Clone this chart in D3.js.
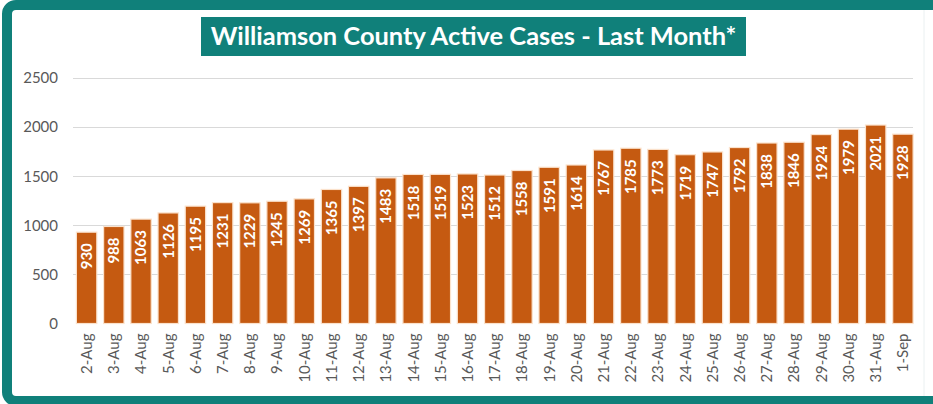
<!DOCTYPE html>
<html>
<head>
<meta charset="utf-8">
<script src="https://cdn.jsdelivr.net/npm/d3@7"></script>
<style>
    html, body { margin: 0; padding: 0; background: #ffffff; }
    svg { display: block; }
</style>
</head>
<body>
<svg id="chart" width="933" height="404"></svg>
<script>
    var days = ["2-Aug", "3-Aug", "4-Aug", "5-Aug", "6-Aug", "7-Aug", "8-Aug", "9-Aug", "10-Aug",
        "11-Aug", "12-Aug", "13-Aug", "14-Aug", "15-Aug", "16-Aug", "17-Aug", "18-Aug", "19-Aug",
        "20-Aug", "21-Aug", "22-Aug", "23-Aug", "24-Aug", "25-Aug", "26-Aug", "27-Aug", "28-Aug",
        "29-Aug", "30-Aug", "31-Aug", "1-Sep"];
    var activeCases = [930, 988, 1063, 1126, 1195, 1231, 1229, 1245, 1269, 1365, 1397, 1483, 1518,
        1519, 1523, 1512, 1558, 1591, 1614, 1767, 1785, 1773, 1719, 1747, 1792, 1838, 1846, 1924,
        1979, 2021, 1928];
    var yTicks = [0, 500, 1000, 1500, 2000, 2500];
    var chartTitle = "Williamson County Active Cases - Last Month*";

    var teal = "#10807a",
        barColor = "#c55a11",
        font = "Lato, 'Open Sans', sans-serif";

    var svg = d3.select("#chart"),
        plotLeft = 73,
        plotRight = 913,
        plotTop = 78,
        plotBottom = 323.5;

    // frame, cropped on the right
    svg.append("rect")
        .attr("x", 7).attr("y", 5)
        .attr("width", 1000).attr("height", 396)
        .attr("rx", 9)
        .attr("fill", "#ffffff")
        .attr("stroke", teal)
        .attr("stroke-width", 10);

    svg.append("line")
        .attr("x1", 924).attr("x2", 924)
        .attr("y1", 10).attr("y2", 396)
        .attr("stroke", "#eaf0f1");

    var x = d3.scaleBand()
        .domain(days)
        .range([plotLeft, plotRight + 3.5])
        .paddingInner(0.25)
        .paddingOuter(0.125);

    var y = d3.scaleLinear()
        .domain([0, 2500])
        .range([plotBottom, plotTop]);

    // grid
    svg.append("g")
        .selectAll("line")
        .data(yTicks.slice(1))
        .enter()
        .append("line")
        .attr("x1", plotLeft)
        .attr("x2", plotRight)
        .attr("y1", function (d) { return Math.round(y(d)) + 0.5; })
        .attr("y2", function (d) { return Math.round(y(d)) + 0.5; })
        .attr("stroke", "#d9d9d9")
        .attr("stroke-width", 1);

    var yAxis = svg.append("g")
        .attr("transform", "translate(" + (plotLeft - 15) + ",0)")
        .call(d3.axisLeft(y).tickValues(yTicks).tickFormat(d3.format("d")).tickSize(0).tickPadding(0));
    yAxis.select(".domain").remove();
    yAxis.selectAll("text")
        .attr("fill", "#595959")
        .style("font-family", font)
        .style("font-size", "15px");

    // bars
    var bars = svg.append("g")
        .selectAll(".bar")
        .data(activeCases)
        .enter()
        .append("g")
        .attr("class", "bar");

    bars.append("rect")
        .attr("x", function (d, i) { return x(days[i]); })
        .attr("y", function (d) { return y(d); })
        .attr("width", x.bandwidth())
        .attr("height", function (d) { return y(0) - y(d); })
        .attr("fill", barColor)
        .attr("stroke", "#fbe2cc")
        .attr("stroke-width", 1.2);

    bars.append("text")
        .attr("transform", function (d, i) {
            return "translate(" + (x(days[i]) + x.bandwidth() / 2) + "," + (y(d) + 11) + ") rotate(-90)";
        })
        .attr("dy", "0.36em")
        .attr("text-anchor", "end")
        .attr("fill", "#ffffff")
        .style("font-family", font)
        .style("font-weight", "bold")
        .style("font-size", "15px")
        .text(function (d) { return d; });

    var xAxis = svg.append("g")
        .attr("transform", "translate(0," + plotBottom + ")")
        .call(d3.axisBottom(x).tickSize(0).tickPadding(0));
    xAxis.select(".domain").remove();
    xAxis.selectAll("text")
        .attr("transform", "translate(0,10) rotate(-90)")
        .attr("x", 0)
        .attr("y", 0)
        .attr("dy", "0.36em")
        .attr("text-anchor", "end")
        .attr("fill", "#595959")
        .style("font-family", font)
        .style("font-size", "15px");

    // title banner
    svg.append("rect")
        .attr("x", 201).attr("y", 17)
        .attr("width", 545).attr("height", 39)
        .attr("fill", teal);

    var title = svg.append("text")
        .attr("x", 473.5)
        .attr("y", 45)
        .attr("text-anchor", "middle")
        .attr("fill", "#ffffff")
        .style("font-family", font)
        .style("font-weight", "bold")
        .style("font-size", "24px")
        .text(chartTitle);

    // fit title to banner width
    var w = title.node().getComputedTextLength();
    title.style("font-size", (24 * 526 / w).toFixed(2) + "px");
</script>
</body>
</html>
